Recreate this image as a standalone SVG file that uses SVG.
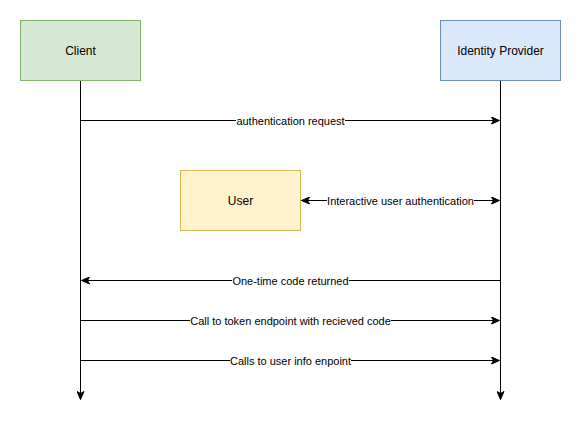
<svg xmlns="http://www.w3.org/2000/svg" width="581" height="429" viewBox="0 0 581 429">
<style>
.node text{font-family:"Liberation Sans",Arial,Helvetica,sans-serif;font-size:12px;fill:#000;text-anchor:middle;dominant-baseline:central}
.conn line{stroke:#000;stroke-width:1;fill:none}
.lbl{font-family:"Liberation Sans",Arial,Helvetica,sans-serif;font-size:11px;fill:#000;text-anchor:middle;dominant-baseline:central}
.bg{fill:#fff}
</style>
<defs>
<marker id="arr" viewBox="0 0 10 8" refX="9" refY="4" markerWidth="10" markerHeight="8" markerUnits="userSpaceOnUse" orient="auto-start-reverse">
<path d="M1,0.5 L9,4 L1,7.5 L3,4 Z" fill="#000" stroke="#000" stroke-width="1"/>
</marker>
</defs>
<rect width="581" height="429" fill="#fff"/>
<g class="conn" id="connectors">
<line x1="80.5" y1="80.5" x2="80.5" y2="399.5" marker-end="url(#arr)"/>
<line x1="500.5" y1="80.5" x2="500.5" y2="399.5" marker-end="url(#arr)"/>
<line x1="80.5" y1="120.5" x2="499.5" y2="120.5" marker-end="url(#arr)"/>
<line x1="301.5" y1="200.5" x2="499.5" y2="200.5" marker-start="url(#arr)" marker-end="url(#arr)"/>
<line x1="500.5" y1="280.5" x2="81.5" y2="280.5" marker-end="url(#arr)"/>
<line x1="80.5" y1="320.5" x2="499.5" y2="320.5" marker-end="url(#arr)"/>
<line x1="80.5" y1="360.5" x2="499.5" y2="360.5" marker-end="url(#arr)"/>
<rect class="bg" x="236" y="113" width="109" height="14"/>
<text class="lbl" x="290.5" y="120.5">authentication request</text>
<rect class="bg" x="327" y="193" width="147" height="14"/>
<text class="lbl" x="400.5" y="200.5">Interactive user authentication</text>
<rect class="bg" x="232" y="273" width="117" height="14"/>
<text class="lbl" x="290.5" y="280.5">One-time code returned</text>
<rect class="bg" x="190" y="313" width="201" height="14"/>
<text class="lbl" x="290.5" y="320.5">Call to token endpoint with recieved code</text>
<rect class="bg" x="230" y="353" width="121" height="14"/>
<text class="lbl" x="290.5" y="360.5">Calls to user info enpoint</text>
</g>
<g class="node" id="client">
<rect x="20.5" y="20.5" width="120" height="60" fill="#d5e8d4" stroke="#82b366"/>
<text x="80.5" y="50.5">Client</text>
</g>
<g class="node" id="idp">
<rect x="440.5" y="20.5" width="120" height="60" fill="#dae8fc" stroke="#6c8ebf"/>
<text x="500.5" y="50.5">Identity Provider</text>
</g>
<g class="node" id="user">
<rect x="180.5" y="170.5" width="120" height="60" fill="#fff2cc" stroke="#d6b656"/>
<text x="240.5" y="200.5">User</text>
</g>
</svg>
